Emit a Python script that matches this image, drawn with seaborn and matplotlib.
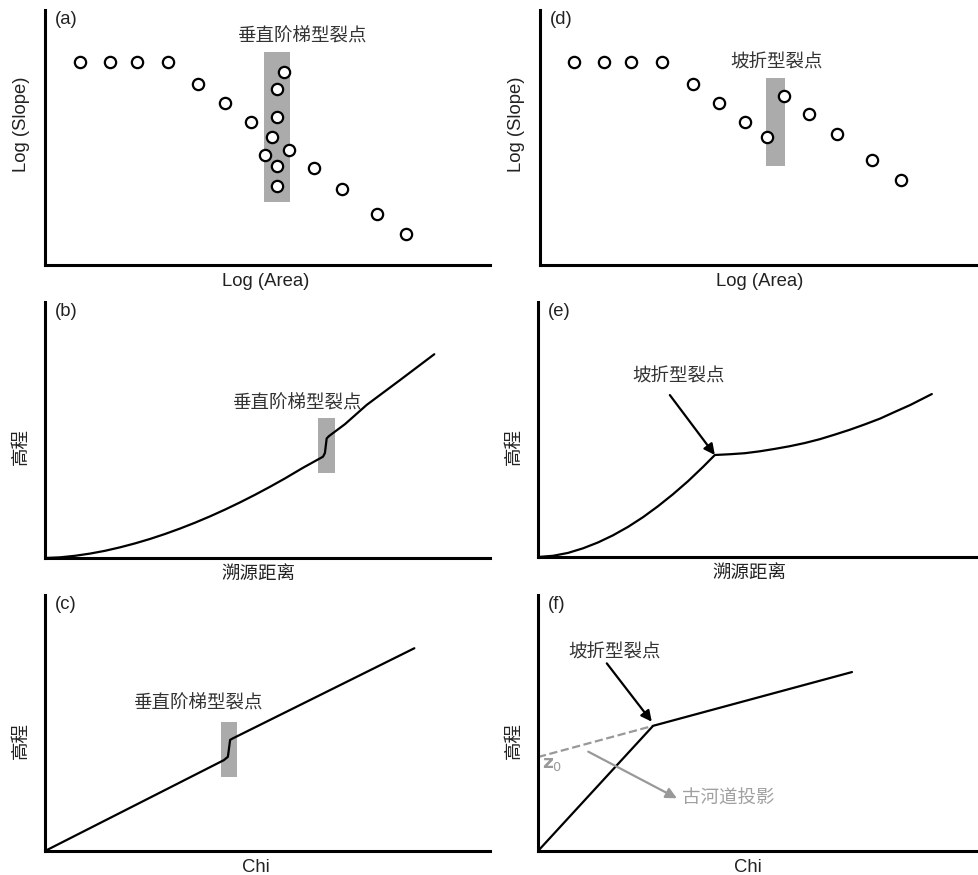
import matplotlib
matplotlib.use("Agg")
import matplotlib.pyplot as plt
import seaborn as sns
import pandas as pd

# ---- (a) slope-area data with a vertical-step knickpoint ----
a_area = [7.9, 14.6, 20.6, 27.7, 34.4, 40.5, 46.2, 53.7, 52.2, 52.2, 51.1, 54.8,
          49.5, 52.2, 52.2, 60.5, 66.8, 74.5, 81.1]
a_slope = [79.5, 79.5, 79.5, 79.5, 71.0, 63.4, 56.1, 75.7, 69.0, 58.2, 50.1, 45.1,
           43.3, 38.9, 31.0, 37.9, 29.9, 20.1, 12.0]
a_band = (49.3, 55.1, 24.8, 83.6)   # x0, x1, y0, y1

# ---- (d) slope-area data with a slope-break knickpoint ----
d_area = [7.8, 14.6, 20.7, 27.9, 34.8, 40.8, 46.7, 51.6, 55.6, 61.3, 67.7, 75.6, 82.2]
d_slope = [79.5, 79.5, 79.5, 79.5, 71.0, 63.4, 56.1, 50.1, 66.4, 59.1, 51.3, 41.3, 33.3]
d_band = (51.5, 55.9, 38.9, 73.2)

# ---- (b) longitudinal profile, vertical-step knickpoint ----
b_dist = [0, 3.37, 6.74, 10.11, 13.48, 16.85, 20.22, 23.6, 26.97, 30.34, 33.71,
          37.08, 40.45, 43.82, 47.19, 50.56, 53.93, 57.98, 62.47, 62.9,
          63.3, 63.8, 67.42, 72.29, 79.78, 87.48]
b_elev = [0, 0.26, 0.86, 1.72, 2.81, 4.16, 5.70, 7.44, 9.38, 11.5, 13.79,
          16.26, 18.91, 21.72, 24.69, 27.82, 31.09, 35.25, 39.57, 41.0,
          46.7, 47.6, 52.3, 59.8, 69.5, 79.6]
b_band = (61.4, 65.2, 33.1, 54.6)

# ---- (e) longitudinal profile, slope-break knickpoint ----
e_dist = [0, 3.4, 6.8, 10.2, 13.6, 17.0, 20.4, 23.8, 27.2, 30.6, 34.0, 37.4, 40.1,
          43.5, 46.9, 50.3, 53.7, 57.1, 60.5, 63.9, 67.3, 70.7, 74.1, 77.6, 80.9,
          84.4, 89.3]
e_elev = [0, 0.47, 1.6, 3.4, 5.7, 8.5, 11.8, 15.6, 19.9, 24.6, 29.7, 35.3, 40.0,
          40.3, 40.7, 41.45, 42.4, 43.45, 44.7, 46.2, 48.0, 49.9, 52.0, 54.3, 56.9,
          59.6, 63.9]
e_knick = (40.1, 40.0)

# ---- (c) chi plot, vertical-step knickpoint ----
c_chi = [0, 40.2, 41.1, 41.6, 42.1, 83.0]
c_elev = [0, 35.5, 36.8, 43.4, 43.9, 79.2]
c_band = (39.6, 43.1, 29.0, 50.5)

# ---- (f) chi plot, slope-break knickpoint ----
f_chi = [0, 26.1, 71.2]
f_elev = [0, 48.9, 69.9]
f_proj_chi = [0, 26.1]
f_proj_elev = [36.7, 48.9]

STEP_LABEL = "垂直阶梯型裂点"
BREAK_LABEL = "坡折型裂点"

sns.set_style("white")
plt.rcParams["font.family"] = ["Liberation Sans", "Noto Sans CJK SC", "DejaVu Sans"]

W, H = 979, 875
fig = plt.figure(figsize=(W / 100, H / 100), dpi=100)


def make_axes(left, right, top, bottom):
    return fig.add_axes([left / W, (H - bottom) / H, (right - left) / W, (bottom - top) / H])


ax_a = make_axes(45, 490, 10, 265)
ax_d = make_axes(540, 979, 10, 265)
ax_b = make_axes(45, 490, 302, 558)
ax_e = make_axes(538, 979, 302, 557)
ax_c = make_axes(45, 490, 595, 851)
ax_f = make_axes(538, 979, 595, 851)

FS = 13.3
TXT = "#333333"
BAND = "#ababab"
LW = 1.6
YLAB_X = -0.034


def style(ax, letter, xlabel, ylabel, xlab_pos, ylab_y, lx=2.2):
    ax.set_xlim(0, 100)
    ax.set_ylim(0, 100)
    ax.set_xticks([])
    ax.set_yticks([])
    for s in ("top", "right"):
        ax.spines[s].set_visible(False)
    for s in ("left", "bottom"):
        ax.spines[s].set_linewidth(2.2)
        ax.spines[s].set_color("black")
    ax.set_xlabel(xlabel, fontsize=FS, color="#222222")
    ax.set_ylabel(ylabel, fontsize=FS, color="#222222")
    ax.xaxis.set_label_coords(xlab_pos, -0.03)
    ax.yaxis.set_label_coords(YLAB_X, ylab_y)
    ax.text(lx, 96.4, letter, fontsize=FS, ha="left", va="center", color="#222222")


def band(ax, b):
    ax.fill_between([b[0], b[1]], b[2], b[3], color=BAND, lw=0, zorder=1)


def scatter(ax, x, y):
    sns.scatterplot(x=x, y=y, ax=ax, s=66, marker="o", facecolor="white",
                    edgecolor="black", linewidth=1.6, zorder=3, legend=False)


def curve(ax, x, y, **kw):
    df = pd.DataFrame({"x": x, "y": y})
    sns.lineplot(data=df, x="x", y="y", ax=ax, sort=False, estimator=None,
                 color=kw.pop("color", "black"), lw=kw.pop("lw", LW), zorder=2, **kw)


def arrow(ax, tip, tail, color="black"):
    ax.annotate("", xy=tip, xytext=tail,
                arrowprops=dict(arrowstyle="-|>", color=color, lw=1.6,
                                mutation_scale=16, shrinkA=0, shrinkB=0))


# (a)
band(ax_a, a_band)
scatter(ax_a, a_area, a_slope)
ax_a.text(57.7, 89.5, STEP_LABEL, fontsize=FS, ha="center", va="center", color=TXT)
style(ax_a, "(a)", "Log (Area)", "Log (Slope)", 0.495, 0.55)

# (d)
band(ax_d, d_band)
scatter(ax_d, d_area, d_slope)
ax_d.text(54.0, 79.1, BREAK_LABEL, fontsize=FS, ha="center", va="center", color=TXT)
style(ax_d, "(d)", "Log (Area)", "Log (Slope)", 0.50, 0.55, lx=2.3)

# (b)
band(ax_b, b_band)
curve(ax_b, b_dist, b_elev)
ax_b.text(56.5, 60.4, STEP_LABEL, fontsize=FS, ha="center", va="center", color=TXT)
style(ax_b, "(b)", "溯源距离", "高程", 0.48, 0.435)

# (e)
curve(ax_e, e_dist, e_elev)
ax_e.text(31.8, 70.5, BREAK_LABEL, fontsize=FS, ha="center", va="center", color=TXT)
arrow(ax_e, e_knick, (29.9, 63.5))
style(ax_e, "(e)", "溯源距离", "高程", 0.48, 0.435, lx=2.3)

# (c)
band(ax_c, c_band)
curve(ax_c, c_chi, c_elev)
ax_c.text(34.4, 57.4, STEP_LABEL, fontsize=FS, ha="center", va="center", color=TXT)
style(ax_c, "(c)", "Chi", "高程", 0.475, 0.43)

# (f)
curve(ax_f, f_proj_chi, f_proj_elev, color="#999999", lw=1.6, linestyle="--", dashes=(4, 2.5))
curve(ax_f, f_chi, f_elev)
ax_f.text(17.3, 77.2, BREAK_LABEL, fontsize=FS, ha="center", va="center", color=TXT)
arrow(ax_f, (25.8, 50.5), (15.6, 73.3))
arrow(ax_f, (31.5, 20.6), (11.4, 38.8), color="#999999")
ax_f.text(32.6, 20.2, "古河道投影", fontsize=FS, ha="left", va="center", color="#a0a0a0")
ax_f.text(0.8, 33.6, r"$\mathbf{z}_{0}$", fontsize=FS, ha="left", va="center", color="#999999")
style(ax_f, "(f)", "Chi", "高程", 0.475, 0.43, lx=2.3)

fig.savefig("out.png", dpi=100, facecolor="white")
